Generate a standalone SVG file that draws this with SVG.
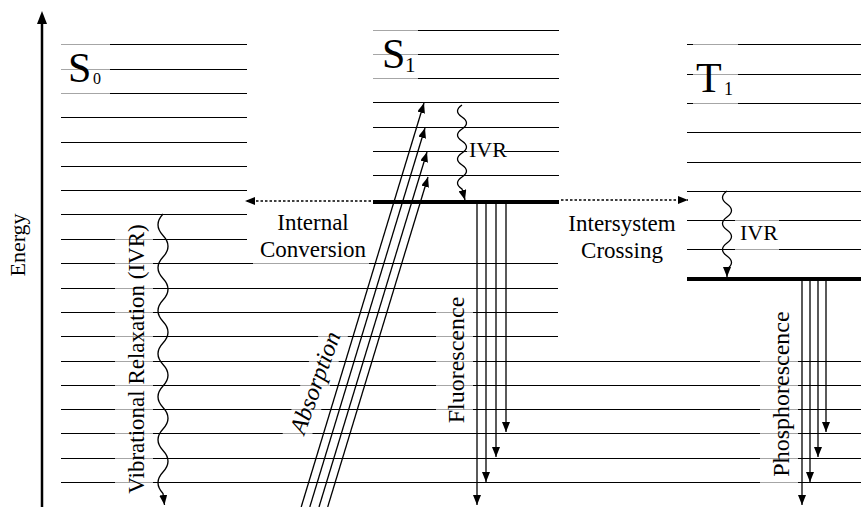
<svg xmlns="http://www.w3.org/2000/svg" width="861" height="507" viewBox="0 0 861 507">
<style>
.lv{stroke:#000;stroke-width:1.1;fill:none}
.thick{stroke:#000;stroke-width:4;fill:none}
.lbl{font-family:'Liberation Serif','DejaVu Serif',serif;fill:#000}
.bg{fill:#fff;fill-opacity:0.65}
.arr{stroke:#000;stroke-width:1.3;fill:none;marker-end:url(#ah)}
.dot{stroke:#000;stroke-width:1.6;stroke-dasharray:2.5 2;fill:none;marker-end:url(#ah)}
</style>
<defs>
<marker id="ah" markerUnits="userSpaceOnUse" markerWidth="10" markerHeight="8" viewBox="0 0 10 8" refX="10" refY="4" orient="auto"><path d="M0,0L10,4L0,8z" fill="#000"/></marker>
</defs>
<rect width="861" height="507" fill="#fff"/>

<g id="axis">
<line x1="42" y1="507" x2="42" y2="22" stroke="#000" stroke-width="2.5"/>
<polygon points="42,11 37,24 47,24" fill="#000"/>
<text class="lbl" font-family="Liberation Serif, DejaVu Serif, serif" font-size="22" text-anchor="middle" transform="translate(25,245) rotate(-90)">Energy</text>
</g>

<g id="S0">
<path class="lv" d="M61,44.5H247M61,69.5H247M61,93.5H247M61,117.5H247M61,142.5H247M61,166.5H247M61,190.5H247M61,214.5H247M61,239.5H247M61,263.5H558M61,288.5H558M61,312.5H558M61,336.5H558M61,361.5H861M61,385.5H861M61,409.5H861M61,433.5H861M61,458.5H861M61,482.5H861"/>
<rect class="bg" x="61" y="40" width="49" height="57"/>
<text class="lbl" font-family="Liberation Serif, DejaVu Serif, serif" x="68" y="82" font-size="42">S</text>
<text class="lbl" font-family="Liberation Serif, DejaVu Serif, serif" x="93" y="84" font-size="16">0</text>
</g>

<g id="S1">
<path class="lv" d="M373,30.5H559M373,54.5H559M373,78.5H559M373,102.5H559M373,127.5H559M373,151.5H559M373,175.5H559"/>
<path class="thick" d="M373,202H559"/>
<rect class="bg" x="373" y="26" width="45" height="56"/>
<text class="lbl" font-family="Liberation Serif, DejaVu Serif, serif" x="382" y="68" font-size="42">S</text>
<text class="lbl" font-family="Liberation Serif, DejaVu Serif, serif" x="405" y="72" font-size="21">1</text>
</g>

<g id="T1">
<path class="lv" d="M687,44.5H861M687,74.5H861M687,103.5H861M687,132.5H861M687,162.5H861M687,191.5H861M687,220.5H861M687,249.5H861"/>
<path class="thick" d="M687,279H861"/>
<rect class="bg" x="693" y="40" width="45" height="67"/>
<text class="lbl" font-family="Liberation Serif, DejaVu Serif, serif" x="696" y="92" font-size="42">T</text>
<text class="lbl" font-family="Liberation Serif, DejaVu Serif, serif" x="724" y="95" font-size="18">1</text>
</g>

<g id="labels" font-family="Liberation Serif, DejaVu Serif, serif">
<rect class="bg" x="253" y="208" width="116" height="58"/>
<text class="lbl" x="313" y="230" font-size="23" text-anchor="middle">Internal</text>
<text class="lbl" x="313" y="257" font-size="23" text-anchor="middle">Conversion</text>
<text class="lbl" x="622" y="231" font-size="23" text-anchor="middle">Intersystem</text>
<text class="lbl" x="622" y="258" font-size="23" text-anchor="middle">Crossing</text>
<rect class="bg" x="467" y="140" width="37" height="20"/>
<text class="lbl" x="469" y="157" font-size="22">IVR</text>
<rect class="bg" x="735" y="214" width="44" height="38"/>
<text class="lbl" x="740" y="240" font-size="22">IVR</text>
<rect class="bg" x="115" y="220" width="38" height="278"/>
<text class="lbl" font-size="23" text-anchor="middle" transform="translate(144,359) rotate(-90)">Vibrational Relaxation (IVR)</text>
<rect class="bg" x="436" y="290" width="37" height="140"/>
<text class="lbl" font-size="24" text-anchor="middle" transform="translate(464,360) rotate(-90)">Fluorescence</text>
<rect class="bg" x="760" y="300" width="38" height="190"/>
<text class="lbl" font-size="24" text-anchor="middle" transform="translate(789,394) rotate(-90)">Phosphorescence</text>
<g transform="translate(316,383) rotate(-70)">
<rect class="bg" x="-62" y="-14" width="124" height="28"/>
<text class="lbl" x="0" y="7" font-size="24" font-style="italic" text-anchor="middle">Absorption</text>
</g>
</g>

<g id="connectors">
<path class="arr" d="M301.2,507L424,103"/>
<path class="arr" d="M309.8,507L425,128"/>
<path class="arr" d="M319,507L427,152"/>
<path class="arr" d="M327.7,507L428,177"/>
<path class="arr" d="M477,204V505"/>
<path class="arr" d="M486,204V482"/>
<path class="arr" d="M496,204V457"/>
<path class="arr" d="M506,204V432"/>
<path class="arr" d="M802,281V505"/>
<path class="arr" d="M810,281V482"/>
<path class="arr" d="M818,281V457"/>
<path class="arr" d="M826,281V432"/>
<path class="dot" d="M371,201H245"/>
<path class="dot" d="M561,200H688"/>
<path class="arr" d="M163,214q-10,10.75 0,21.5t0,21.5t0,21.5t0,21.5t0,21.5t0,21.5t0,21.5t0,21.5t0,21.5t0,21.5t0,21.5t0,21.5t0,21.5l1.5,11.5"/>
<path class="arr" d="M462,105q-9,6 0,12t0,12t0,12t0,12t0,12t0,12t0,12l3,11"/>
<path class="arr" d="M727,191q-9,6.5 0,13t0,13t0,13t0,13t0,13t0,13l0,8"/>
</g>
</svg>
